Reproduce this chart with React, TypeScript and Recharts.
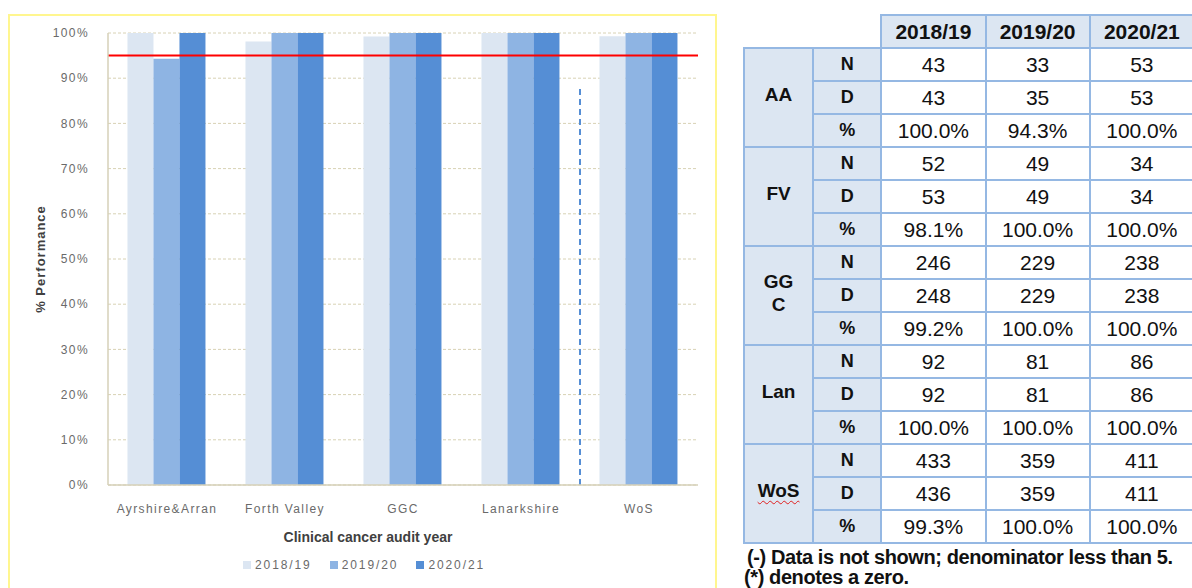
import React from 'react';
import { BarChart, Bar, XAxis, YAxis, CartesianGrid, ReferenceLine, Legend } from 'recharts';

const categories = ['Ayrshire&Arran', 'Forth Valley', 'GGC', 'Lanarkshire', 'WoS'];
const seriesNames = ['2018/19', '2019/20', '2020/21'];
const values2018 = [100, 98.1, 99.2, 100, 99.3];
const values2019 = [94.3, 100, 100, 100, 100];
const values2020 = [100, 100, 100, 100, 100];
const seriesColors = ['#dce6f2', '#8eb4e3', '#558ed5'];
const yTicks = [0, 10, 20, 30, 40, 50, 60, 70, 80, 90, 100];
const targetValue = 95;
const dividerCategory = 'WoS';
const dividerTop = 88;

const boardLabels = ['AA', 'FV', 'GGC', 'Lan', 'WoS'];
const rowLabels = ['N', 'D', '%'];
const numerators = [
  [43, 33, 53],
  [52, 49, 34],
  [246, 229, 238],
  [92, 81, 86],
  [433, 359, 411],
];
const denominators = [
  [43, 35, 53],
  [53, 49, 34],
  [248, 229, 238],
  [92, 81, 86],
  [436, 359, 411],
];
const percents = [
  ['100.0%', '94.3%', '100.0%'],
  ['98.1%', '100.0%', '100.0%'],
  ['99.2%', '100.0%', '100.0%'],
  ['100.0%', '100.0%', '100.0%'],
  ['99.3%', '100.0%', '100.0%'],
];
const footnotes = ['(-) Data is not shown; denominator less than 5.', '(*) denotes a zero.'];

const seriesKeys = ['s2018', 's2019', 's2020'];
const data = categories.map((name, i) => ({
  name,
  s2018: values2018[i],
  s2019: values2019[i],
  s2020: values2020[i],
}));

const FONT = '"Liberation Sans", Arial, sans-serif';
const tickStyle = { fontSize: 12, fill: '#6a6a6a', fontFamily: FONT, letterSpacing: 1.4 };
const AXIS_COLOR = '#d6d1b8';
const BORDER = '2px solid #95b8e3';
const LABEL_BG = '#dce6f2';

const YLabel = (props: any) => {
  const vb = props.viewBox || {};
  const x = vb.x - 3;
  const y = vb.y + vb.height / 2;
  return (
    <text
      x={x}
      y={y}
      transform={`rotate(-90 ${x} ${y})`}
      textAnchor="middle"
      fontFamily={FONT}
      fontSize={13}
      fontWeight="bold"
      letterSpacing={1}
      fill="#404040"
    >
      % Performance
    </text>
  );
};

const XLabel = (props: any) => {
  const vb = props.viewBox || {};
  const x = vb.x + vb.width / 2 - 35;
  const y = vb.y + 57;
  return (
    <text x={x} y={y} textAnchor="middle" fontFamily={FONT} fontSize={14} fontWeight="bold" fill="#404040">
      Clinical cancer audit year
    </text>
  );
};

const LegendContent = (props: any) => {
  const payload = props.payload || [];
  return (
    <div style={{ display: 'flex', alignItems: 'center', fontFamily: FONT }}>
      {payload.map((p: any) => (
        <div key={p.value} style={{ display: 'flex', alignItems: 'center', marginRight: 18 }}>
          <span style={{ display: 'inline-block', width: 8, height: 8, background: p.color, marginRight: 4 }} />
          <span style={{ fontSize: 12, color: '#6a6a6a', letterSpacing: 1.9, lineHeight: '16px' }}>{p.value}</span>
        </div>
      ))}
    </div>
  );
};

const cellBase: React.CSSProperties = {
  border: BORDER,
  padding: 0,
  textAlign: 'center',
  verticalAlign: 'middle',
  height: 31,
  fontFamily: FONT,
  color: '#111',
};

export default function App() {
  return (
    <div style={{ position: 'absolute', left: 0, top: 0, width: 1192, height: 588, overflow: 'hidden', background: '#fff' }}>
      <div
        style={{
          position: 'absolute',
          left: 8,
          top: 14,
          width: 705,
          height: 580,
          border: '2px solid #fff68f',
          borderBottom: 'none',
        }}
      />
      <div style={{ position: 'absolute', left: 0, top: 0 }}>
        <BarChart
          width={716}
          height={588}
          data={data}
          margin={{ top: 33, right: 18, bottom: 73, left: 48 }}
          barCategoryGap="16.5%"
          barGap={0}
        >
          <CartesianGrid vertical={false} stroke="#d8d2b4" strokeDasharray="3 2" />
          <XAxis
            dataKey="name"
            tick={tickStyle}
            tickLine={false}
            tickSize={0}
            tickMargin={19}
            axisLine={{ stroke: AXIS_COLOR, strokeWidth: 1.5 }}
            height={30}
            interval={0}
            label={<XLabel />}
          />
          <YAxis
            domain={[0, 100]}
            ticks={yTicks}
            tickFormatter={(v: number) => `${v}%`}
            tick={tickStyle}
            tickLine={false}
            tickSize={0}
            tickMargin={19}
            axisLine={{ stroke: AXIS_COLOR, strokeWidth: 1.5 }}
            width={60}
            interval={0}
            label={<YLabel />}
          />
          {seriesKeys.map((k, i) => (
            <Bar key={k} dataKey={k} name={seriesNames[i]} fill={seriesColors[i]} isAnimationActive={false} />
          ))}
          <ReferenceLine y={targetValue} stroke="#ff0000" strokeWidth={2} />
          <ReferenceLine
            segment={[
              { x: dividerCategory, y: 0 },
              { x: dividerCategory, y: dividerTop },
            ]}
            position="start"
            stroke="#558ed5"
            strokeWidth={2}
            strokeDasharray="6 4"
          />
          <Legend
            layout="horizontal"
            verticalAlign="middle"
            align="center"
            content={<LegendContent />}
            wrapperStyle={{ left: 243, top: 557, width: 300, height: 16 }}
          />
        </BarChart>
      </div>

      <table
        style={{
          position: 'absolute',
          left: 743,
          top: 14,
          borderCollapse: 'collapse',
          tableLayout: 'fixed',
          width: 452,
        }}
      >
        <colgroup>
          <col style={{ width: 69 }} />
          <col style={{ width: 68 }} />
          <col style={{ width: 104 }} />
          <col style={{ width: 104 }} />
          <col style={{ width: 104 }} />
        </colgroup>
        <tbody>
          <tr>
            <td colSpan={2} style={{ border: 'none', height: 30 }} />
            {seriesNames.map((y) => (
              <td
                key={y}
                style={{ ...cellBase, height: 30, background: LABEL_BG, fontWeight: 'bold', fontSize: 21 }}
              >
                {y}
              </td>
            ))}
          </tr>
          {boardLabels.map((board, bi) =>
            rowLabels.map((rl, ri) => {
              const vals = ri === 0 ? numerators[bi] : ri === 1 ? denominators[bi] : percents[bi];
              return (
                <tr key={`${board}-${rl}`}>
                  {ri === 0 && (
                    <td
                      rowSpan={3}
                      style={{ ...cellBase, background: LABEL_BG, fontWeight: 'bold', fontSize: 19, lineHeight: '23px', paddingBottom: 6 }}
                    >
                      {board === 'GGC' ? (
                        <>
                          GG
                          <br />C
                        </>
                      ) : board === 'WoS' ? (
                        <span
                          style={{
                            textDecoration: 'underline wavy #e02020',
                            textDecorationThickness: '1px',
                            textUnderlineOffset: '3px',
                          }}
                        >
                          {board}
                        </span>
                      ) : (
                        board
                      )}
                    </td>
                  )}
                  <td style={{ ...cellBase, background: LABEL_BG, fontWeight: 'bold', fontSize: 18 }}>{rl}</td>
                  {vals.map((v, vi) => (
                    <td key={vi} style={{ ...cellBase, background: '#fff', fontSize: 21 }}>
                      {v}
                    </td>
                  ))}
                </tr>
              );
            })
          )}
        </tbody>
      </table>

      <div
        style={{
          position: 'absolute',
          left: 744,
          top: 547,
          fontFamily: FONT,
          fontWeight: 'bold',
          fontSize: 20,
          letterSpacing: -0.4,
          lineHeight: '20px',
          color: '#111',
          whiteSpace: 'nowrap',
        }}
      >
        <div style={{ marginLeft: 3 }}>{footnotes[0]}</div>
        <div>{footnotes[1]}</div>
      </div>
    </div>
  );
}
